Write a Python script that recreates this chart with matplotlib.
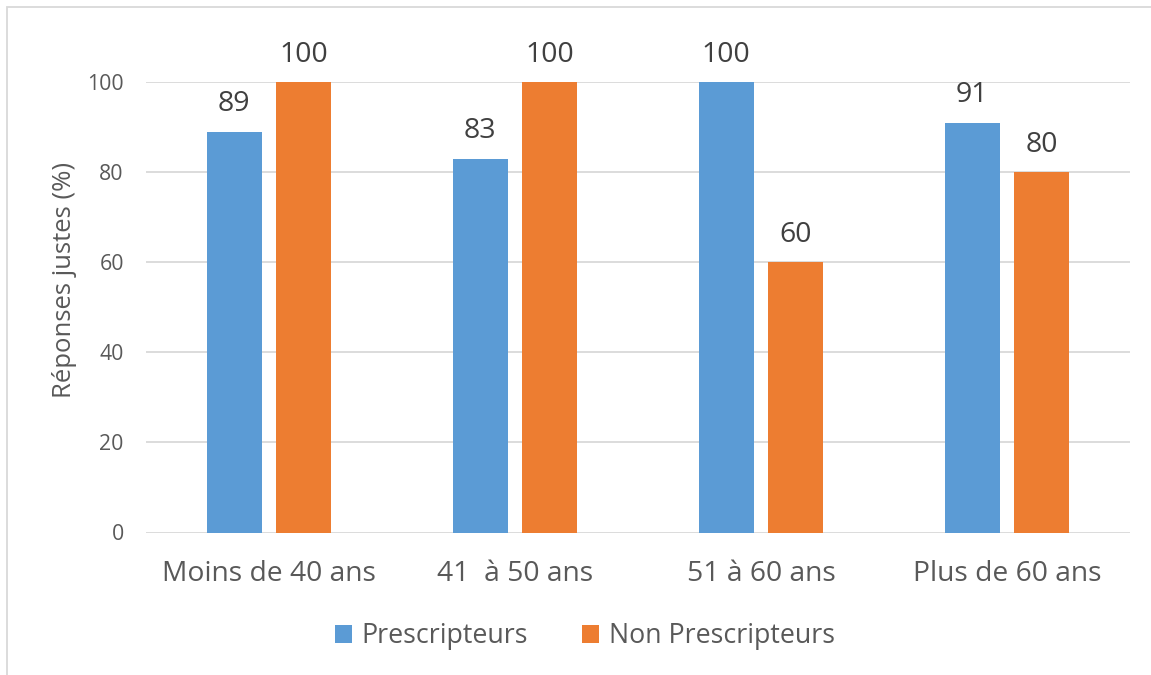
import matplotlib
matplotlib.use("Agg")
import matplotlib.pyplot as plt
import numpy as np
from matplotlib.patches import Rectangle

plt.rcParams['font.family'] = ['Open Sans', 'DejaVu Sans']

categories = ['Moins de 40 ans', '41  à 50 ans', '51 à 60 ans', 'Plus de 60 ans']
prescripteurs = [89, 83, 100, 91]
non_prescripteurs = [100, 100, 60, 80]
series_names = ['Prescripteurs', 'Non Prescripteurs']
colors = ['#5B9BD5', '#ED7D31']

fig = plt.figure(figsize=(11.51, 6.75), dpi=100)
ax = fig.add_axes([146/1151, 1 - 532.5/675, (1130 - 146)/1151, (532.5 - 82)/675])

x = np.arange(len(categories))
w = 0.224
off = 0.141
for vals, name, c, d in zip([prescripteurs, non_prescripteurs], series_names, colors, [-off, off]):
    bars = ax.bar(x + d, vals, w, color=c, label=name, zorder=3)
    for b, v in zip(bars, vals):
        ax.annotate(str(v), (b.get_x() + b.get_width() / 2, v), xytext=(0, 14.5),
                    textcoords='offset points', ha='center', va='baseline',
                    fontsize=20.5, color='#404040', annotation_clip=False)

ax.set_xlim(-0.5, len(categories) - 0.5)
ax.set_ylim(0, 100)
ax.set_yticks(range(0, 101, 20))
ax.set_xticks(x)
ax.set_xticklabels(categories, fontsize=20.3, color='#595959')
ax.tick_params(axis='x', length=0, pad=20)
ax.tick_params(axis='y', length=0, pad=16, labelsize=15.3, labelcolor='#595959')
ax.grid(axis='y', color='#D9D9D9', linewidth=1.3, zorder=0)
for s in ax.spines.values():
    s.set_visible(False)
ax.set_ylabel('Réponses justes (%)', fontsize=18.5, color='#595959')
ax.yaxis.set_label_coords(-0.070, 0.56)

leg = fig.legend(loc='center', bbox_to_anchor=(0.508, 1 - 636/675), ncol=2, frameon=False,
                 fontsize=19.3, handlelength=0.65, handleheight=0.65, handletextpad=0.35,
                 columnspacing=2.0)
for t in leg.get_texts():
    t.set_color('#595959')

fig.patches.append(Rectangle((7/1151, -0.1), 1.2, 1 - 7/675 + 0.1, transform=fig.transFigure,
                             fill=False, edgecolor='#D9D9D9', linewidth=1.3))

fig.savefig('out.png', dpi=100)
